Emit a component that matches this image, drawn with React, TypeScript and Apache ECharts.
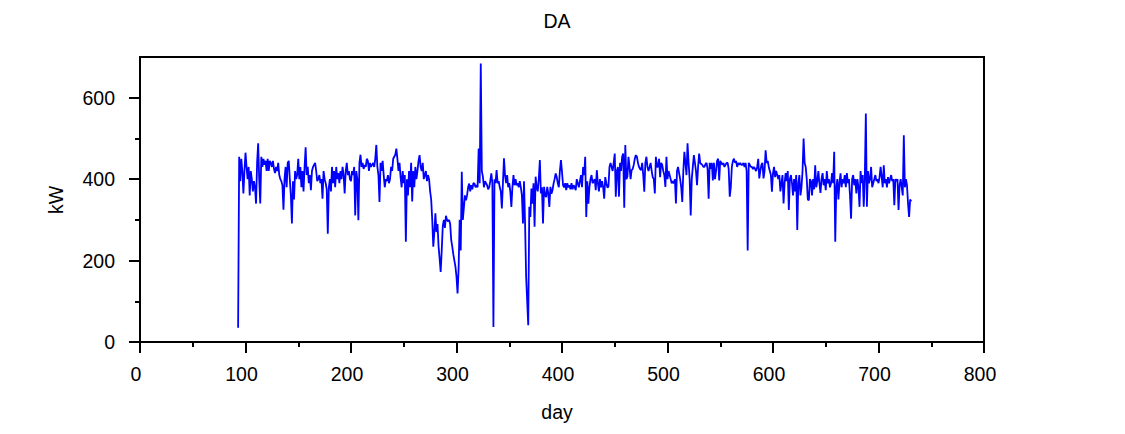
import React, { useEffect, useRef } from "react";
import * as echarts from "echarts";

const titleText = "DA";
const xName = "day";
const yName = "kW";
const xTicks = { min: 0, max: 800, step: 100 };
const yMajorTicks = [0, 200, 400, 600];
const yMinorTicks = [100, 300, 500];
const yMax = 700;

const startDay = 93;
const kw093_199 = [
  35, 455, 395, 450, 420, 365, 420,
  465, 430, 400, 430, 360, 420, 400, 370, 395, 380,
  340, 440, 488, 400, 340, 455, 430, 450, 435, 445,
  420, 450, 420, 445, 440, 430, 445, 425, 415, 430,
  420, 440, 410, 400, 395, 385, 325, 400, 430, 380,
  440, 445, 400, 360, 291, 395, 350, 420, 400, 410,
  450, 400, 430, 380, 420, 370, 430, 478, 410, 430,
  390, 410, 373, 420, 430, 435, 440, 420, 395, 400,
  410, 390, 400, 352, 420, 400, 390, 375, 266, 380,
  400, 370, 430, 390, 420, 380, 430, 400, 415, 390,
  420, 400, 430, 410, 365, 420, 440, 410, 420, 400,
];
const kw200_299 = [
  395, 420, 410, 430, 311, 420, 400, 299, 440, 460,
  430, 440, 425, 435, 430, 450, 445, 420, 440, 430,
  435, 440, 430, 450, 484, 430, 410, 344, 440, 420,
  445, 410, 380, 400, 395, 410, 390, 400, 430, 420,
  450, 455, 460, 475, 450, 420, 440, 405, 380, 420,
  390, 410, 246, 400, 360, 420, 380, 440, 345, 420,
  380, 430, 400, 420, 445, 459, 430, 420, 440, 400,
  410, 420, 395, 410, 400, 370, 350, 300, 234, 270,
  316, 270, 290, 235, 205, 172, 225, 285, 300, 280,
  310, 300, 296, 300, 290, 250, 234, 215, 200, 185,
];
const kw300_399 = [
  160, 119, 180, 300, 225, 418, 300, 330, 360, 348,
  360, 380, 389, 370, 385, 375, 390, 389, 380, 385,
  380, 475, 390, 684, 420, 406, 380, 395, 390, 385,
  375, 380, 395, 414, 390, 37, 400, 390, 422, 390,
  395, 380, 370, 328, 390, 451, 410, 390, 410, 380,
  390, 370, 332, 380, 410, 385, 400, 385, 390, 380,
  395, 380, 360, 291, 395, 291, 160, 100, 41, 332,
  307, 377, 340, 390, 283, 406, 380, 370, 400, 447,
  365, 380, 291, 381, 360, 356, 381, 365, 332, 381,
  364, 373, 389, 400, 414, 405, 390, 380, 420, 447,
];
const kw400_499 = [
  418, 385, 380, 390, 373, 390, 380, 385, 375, 390,
  375, 385, 380, 373, 400, 390, 380, 395, 410, 380,
  430, 410, 455, 307, 395, 340, 380, 400, 410, 390,
  395, 400, 373, 422, 390, 370, 400, 380, 395, 380,
  352, 405, 390, 380, 381, 430, 440, 430, 420, 440,
  463, 357, 420, 430, 357, 440, 420, 455, 463, 330,
  484, 400, 406, 455, 430, 400, 422, 425, 435, 450,
  459, 455, 440, 430, 425, 422, 440, 410, 369, 440,
  455, 430, 420, 430, 440, 420, 405, 400, 365, 455,
  430, 430, 450, 405, 440, 435, 420, 410, 381, 455,
];
const kw500_599 = [
  400, 420, 410, 400, 390, 395, 390, 400, 340, 420,
  430, 415, 400, 380, 344, 420, 467, 440, 410, 488,
  440, 400, 311, 400, 430, 459, 440, 420, 385, 430,
  463, 440, 437, 435, 430, 430, 437, 440, 425, 352,
  440, 425, 440, 397, 440, 400, 420, 445, 450, 397,
  445, 440, 435, 440, 430, 435, 440, 440, 425, 357,
  380, 430, 445, 450, 440, 445, 430, 440, 435, 440,
  435, 435, 440, 430, 440, 420, 225, 440, 435, 430,
  430, 425, 430, 425, 420, 430, 450, 402, 420, 435,
  440, 402, 420, 471, 440, 445, 430, 420, 410, 369,
];
const kw600_699 = [
  415, 430, 405, 420, 410, 400, 410, 370, 390, 410,
  340, 390, 415, 395, 420, 324, 400, 410, 390, 360,
  400, 370, 410, 275, 390, 410, 360, 380, 420, 500,
  440, 430, 400, 350, 348, 400, 395, 360, 400, 375,
  434, 380, 395, 420, 390, 366, 400, 415, 385, 400,
  373, 420, 390, 400, 380, 390, 415, 390, 467, 246,
  380, 400, 350, 390, 414, 380, 400, 390, 410, 380,
  415, 390, 400, 360, 303, 400, 410, 385, 400, 365,
  400, 380, 332, 420, 390, 410, 332, 400, 561, 332,
  420, 390, 400, 430, 380, 390, 400, 410, 395, 400,
];
const kw700_731 = [
  390, 405, 430, 405, 380, 434, 390, 400, 380, 405,
  390, 400, 410, 395, 400, 336, 400, 395, 400, 324,
  385, 400, 380, 360, 508, 380, 400, 385, 340, 307,
  350, 345,
];

const FONT = "Liberation Sans, Arial, Helvetica, sans-serif";
const FS = 19.5;

export default function App() {
  const ref = useRef<HTMLDivElement>(null);

  useEffect(() => {
    document.body.style.margin = "0";
    const chart = echarts.init(ref.current!, null, { renderer: "svg" });
    const values = [
      ...kw093_199,
      ...kw200_299,
      ...kw300_399,
      ...kw400_499,
      ...kw500_599,
      ...kw600_699,
      ...kw700_731,
    ];
    const data = values.map((v, i) => [startDay + i, v]);
    const black = "#000";
    chart.setOption({
      animation: false,
      grid: {
        left: 140,
        right: 141,
        top: 57,
        bottom: 92,
        show: true,
        borderColor: black,
        borderWidth: 2,
        backgroundColor: "transparent",
      },
      xAxis: {
        type: "value",
        min: xTicks.min,
        max: xTicks.max,
        interval: xTicks.step,
        axisLine: { show: true, onZero: false, lineStyle: { color: black, width: 2 } },
        axisTick: { show: true, inside: false, length: 11, lineStyle: { color: black, width: 2 } },
        minorTick: { show: true, splitNumber: 2, length: 5, lineStyle: { color: black, width: 2 } },
        splitLine: { show: false },
        minorSplitLine: { show: false },
        axisLabel: {
          fontSize: FS,
          color: black,
          margin: 22,
          fontFamily: FONT,
          padding: [0, 8, 0, 0],
        },
      },
      yAxis: [
        {
          type: "value",
          min: 0,
          max: yMax,
          position: "left",
          axisLine: { show: true, onZero: false, lineStyle: { color: black, width: 2 } },
          axisTick: {
            show: true,
            inside: false,
            length: 11,
            customValues: yMajorTicks,
            lineStyle: { color: black, width: 2 },
          },
          axisLabel: {
            fontSize: FS,
            color: black,
            margin: 25,
            fontFamily: FONT,
            customValues: yMajorTicks,
          },
          splitLine: { show: false },
        },
        {
          type: "value",
          min: 0,
          max: yMax,
          position: "left",
          axisLine: { show: false },
          axisTick: {
            show: true,
            inside: false,
            length: 5,
            customValues: yMinorTicks,
            lineStyle: { color: black, width: 2 },
          },
          axisLabel: { show: false },
          splitLine: { show: false },
        },
      ],
      series: [
        {
          type: "line",
          data,
          xAxisIndex: 0,
          yAxisIndex: 0,
          symbol: "none",
          showSymbol: false,
          lineStyle: { color: "#0000ff", width: 1.8 },
          itemStyle: { color: "#0000ff" },
        },
      ],
      graphic: [
        {
          type: "text",
          x: 557,
          y: 21,
          style: {
            text: titleText,
            fontSize: FS,
            fontFamily: FONT,
            fill: black,
            textAlign: "center",
            textVerticalAlign: "middle",
          },
        },
        {
          type: "text",
          x: 557,
          y: 412,
          style: {
            text: xName,
            fontSize: FS,
            fontFamily: FONT,
            fill: black,
            textAlign: "center",
            textVerticalAlign: "middle",
          },
        },
        {
          type: "text",
          x: 56,
          y: 200,
          rotation: Math.PI / 2,
          style: {
            text: yName,
            fontSize: FS,
            fontFamily: FONT,
            fill: black,
            textAlign: "center",
            textVerticalAlign: "middle",
          },
        },
      ],
    });
    return () => chart.dispose();
  }, []);

  return <div ref={ref} style={{ width: 1125, height: 434 }} />;
}
